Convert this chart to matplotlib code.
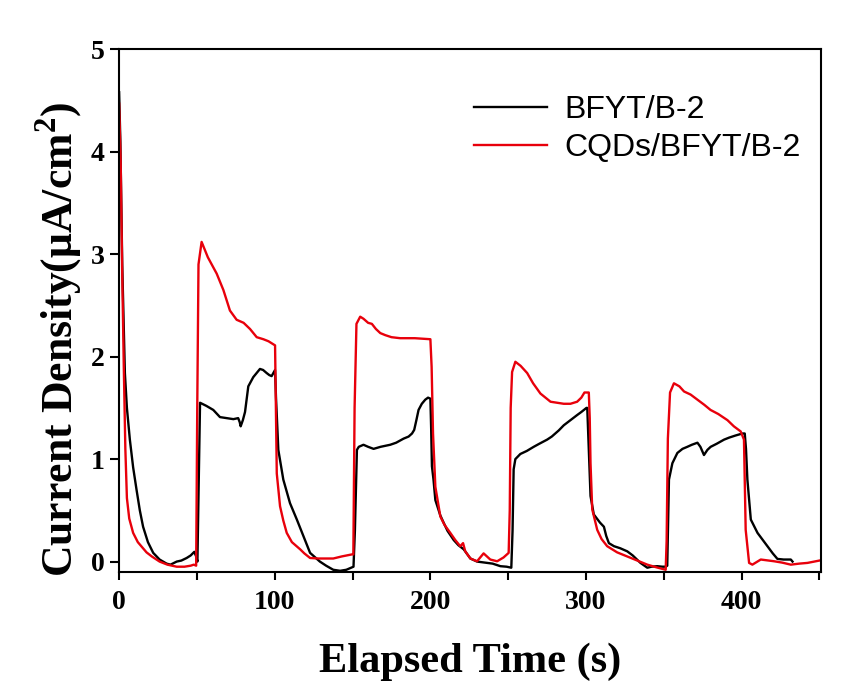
import matplotlib.pyplot as plt

plt.rcParams['font.family'] = 'Liberation Serif'
plt.rcParams['font.weight'] = 'bold'
plt.rcParams['mathtext.fontset'] = 'custom'
plt.rcParams['mathtext.bf'] = 'Liberation Serif:bold'
plt.rcParams['mathtext.rm'] = 'Liberation Serif:bold'

# BFYT/B-2 (black), values
t_bfyt = [0, 0.8, 2.0, 3.7, 5.0, 6.9, 9.0, 11.2, 13.3, 15.4,
          18.5, 21.9, 26, 30.5, 33, 37, 40, 43.4, 46, 48.3,
          49.5, 50.3, 51.2, 52, 56, 60.5, 64.8, 69, 73.4, 76.5,
          77.5, 78.1, 79.5, 80.9, 83, 86.2, 90.5, 92.5, 94.8, 96.5,
          98, 100.2, 100.8, 102.3, 105.5, 109.8, 114.2, 118.4, 122.7, 126,
          129, 133, 137.6, 142, 146, 150.6, 151.5, 152.8, 154, 157,
          160, 163.5, 168, 174.2, 178, 182.8, 186, 188.2, 189.6, 191,
          192.4, 194.5, 196.7, 198.5, 200, 200.5, 201, 202, 203.2, 206.4,
          208.5, 211, 215, 218, 221.4, 225.7, 230, 236.4, 240, 245,
          249, 252, 252.8, 253.5, 254.6, 257.8, 262, 266.4, 270, 275,
          278, 282.5, 285.7, 290, 294.3, 297, 300.3, 300.8, 301.8, 302.9,
          305, 307, 309, 311.5, 313, 314.7, 318, 322, 326.5, 330,
          335, 339.4, 342, 345.8, 349, 351.2, 352.2, 353.3, 355.5, 358.7,
          362, 365.1, 368, 371.6, 373.5, 375.8, 378, 380.1, 384, 388.7,
          392, 396, 400.5, 402, 402.8, 403.7, 405.9, 410.2, 416.6, 420,
          423, 427, 431.6, 432.7]
j_bfyt = [4.58, 4.1, 2.9, 1.84, 1.5, 1.19, 0.92, 0.70, 0.50, 0.34,
          0.19, 0.085, 0.02, -0.02, -0.03, 0.0, 0.01, 0.035, 0.06, 0.095,
          0.05, 0.0, 0.8, 1.55, 1.52, 1.48, 1.41, 1.40, 1.39, 1.40,
          1.36, 1.32, 1.38, 1.46, 1.71, 1.80, 1.88, 1.87, 1.84, 1.82,
          1.81, 1.87, 1.6, 1.09, 0.80, 0.57, 0.41, 0.25, 0.085, 0.04,
          0.0, -0.04, -0.08, -0.09, -0.08, -0.05, 0.3, 1.09, 1.12, 1.14,
          1.12, 1.10, 1.12, 1.14, 1.16, 1.20, 1.22, 1.25, 1.285, 1.38,
          1.48, 1.54, 1.58, 1.60, 1.59, 1.3, 0.93, 0.8, 0.60, 0.45,
          0.38, 0.30, 0.21, 0.16, 0.12, 0.03, 0.0, -0.013, -0.02, -0.045,
          -0.05, -0.06, 0.3, 0.9, 1.0, 1.05, 1.08, 1.12, 1.15, 1.19,
          1.22, 1.28, 1.33, 1.38, 1.43, 1.46, 1.50, 1.50, 1.1, 0.64,
          0.46, 0.42, 0.38, 0.34, 0.25, 0.18, 0.15, 0.13, 0.10, 0.06,
          -0.013, -0.06, -0.05, -0.045, -0.05, -0.05, -0.04, 0.80, 0.96, 1.06,
          1.10, 1.12, 1.14, 1.16, 1.12, 1.04, 1.09, 1.12, 1.15, 1.19,
          1.21, 1.23, 1.25, 1.25, 1.1, 0.80, 0.41, 0.28, 0.15, 0.08,
          0.026, 0.02, 0.02, 0.0]

# CQDs/BFYT/B-2 (red)
t_cqds = [0, 1.0, 2.0, 3.0, 4.0, 5.0, 6.5, 9, 12, 17.6,
          21, 26, 31, 37, 42, 46, 48, 49.5, 50.2, 51,
          53, 57, 62.7, 67, 71.2, 75.5, 80, 84.1, 88.4, 92.7,
          96, 100.2, 101.3, 103.4, 105.5, 107.7, 111, 116.3, 119, 122.7,
          128, 133, 137.6, 143, 149.6, 150.5, 151.3, 152.5, 154.9, 157,
          160, 162.4, 165, 167.8, 171, 175, 180.6, 190, 200, 200.8,
          201.7, 203.2, 206.4, 209, 212.8, 216, 219.2, 221, 222.4, 225.7,
          230, 234.2, 238.5, 242.9, 247, 250.3, 251, 251.6, 252.5, 254.6,
          258, 262.2, 266, 270.7, 277.2, 285.7, 290, 294.3, 297, 299,
          301.8, 302.4, 302.9, 304, 307.2, 310, 313.6, 320, 326.5, 333,
          339.4, 345, 351.2, 351.8, 352.6, 354, 356.5, 360, 363, 367.2,
          371.6, 376, 380, 385, 390.9, 395, 399.4, 401.5, 402.6, 404.8,
          406.9, 412.3, 420.9, 426, 431.6, 437, 442.3, 451]
j_cqds = [4.47, 3.9, 2.8, 1.9, 1.1, 0.62, 0.42, 0.28, 0.19, 0.09,
          0.05, 0.0, -0.03, -0.05, -0.05, -0.04, -0.03, -0.04, 1.5, 2.9,
          3.12, 2.97, 2.81, 2.65, 2.45, 2.36, 2.33, 2.27, 2.19, 2.17,
          2.15, 2.11, 0.86, 0.54, 0.40, 0.28, 0.19, 0.12, 0.08, 0.035,
          0.03, 0.03, 0.03, 0.05, 0.07, 0.07, 1.5, 2.32, 2.39, 2.37,
          2.33, 2.32, 2.27, 2.23, 2.21, 2.19, 2.18, 2.18, 2.17, 1.9,
          1.25, 0.73, 0.44, 0.36, 0.28, 0.21, 0.15, 0.18, 0.10, 0.03,
          0.003, 0.08, 0.02, 0.003, 0.04, 0.085, 0.5, 1.5, 1.85, 1.95,
          1.91, 1.84, 1.74, 1.64, 1.56, 1.54, 1.54, 1.56, 1.60, 1.65,
          1.65, 1.4, 0.96, 0.51, 0.31, 0.22, 0.15, 0.09, 0.05, 0.01,
          -0.03, -0.055, -0.08, 0.2, 1.2, 1.65, 1.74, 1.71, 1.66, 1.63,
          1.58, 1.53, 1.48, 1.44, 1.38, 1.32, 1.27, 1.19, 0.31, -0.013,
          -0.03, 0.02, 0.003, -0.01, -0.03, -0.02, -0.013, 0.013]

fig = plt.figure(figsize=(8.57, 6.84), dpi=100)
ax = fig.add_axes([0.139, 0.164, 0.819, 0.764])

ax.plot(t_bfyt, j_bfyt, color='black', lw=1.7, label='BFYT/B-2')
ax.plot(t_cqds, j_cqds, color='#e8000b', lw=1.7, label='CQDs/BFYT/B-2')

ax.set_xlim(0, 451)
ax.set_ylim(-0.1, 5)
ax.set_xticks([0, 50, 100, 150, 200, 250, 300, 350, 400, 450])
ax.set_xticklabels(['0', '', '100', '', '200', '', '300', '', '400', ''])
ax.set_yticks([0, 1, 2, 3, 4, 5])

for s in ax.spines.values():
    s.set_linewidth(1.5)
ax.tick_params(direction='out', length=6.5, width=1.5, labelsize=20)
ax.tick_params(axis='x', length=6, pad=7)
ax.tick_params(axis='y', pad=4)

ax.set_xlabel('Elapsed Time (s)', fontsize=30.5, fontweight='bold', labelpad=20)
ax.set_ylabel('Current Density(μA/cm$^{\\mathbf{2}}$)', fontsize=31.5,
              fontweight='bold')
ax.yaxis.set_label_coords(-0.048, 0.445)

leg = ax.legend(loc='upper left', bbox_to_anchor=(0.505, 0.912), frameon=False,
                prop={'family': 'Liberation Sans', 'weight': 'normal', 'size': 23},
                handlelength=2.3, handletextpad=0.55, labelspacing=0.25,
                borderpad=0, borderaxespad=0)

plt.savefig('out.png', dpi=100)
